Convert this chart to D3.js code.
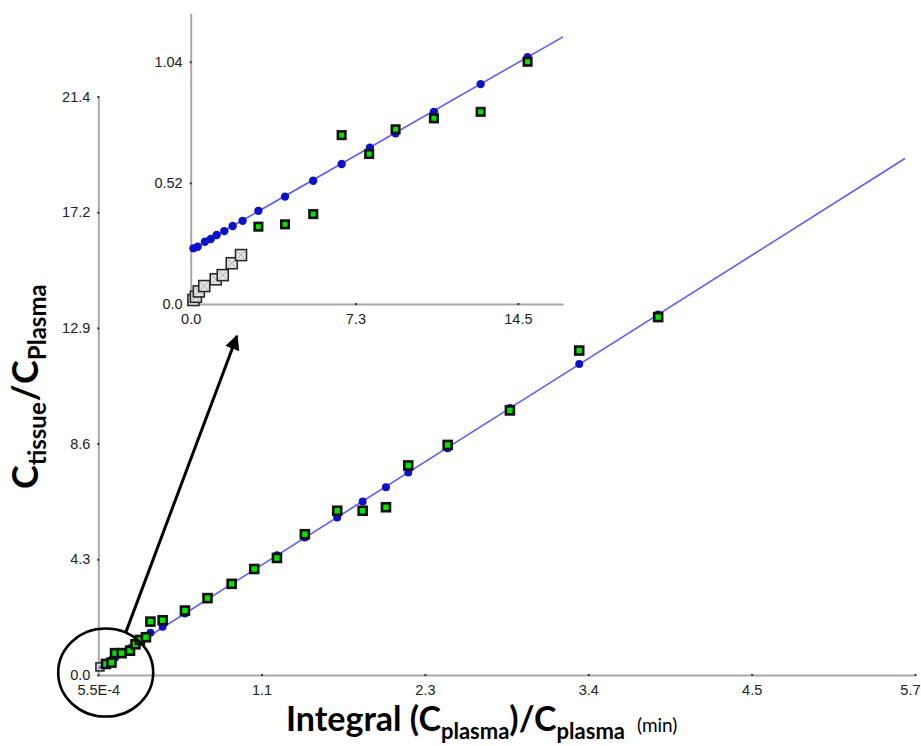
<!DOCTYPE html>
<html>
<head>
<meta charset="utf-8">
<script src="https://cdn.jsdelivr.net/npm/d3@7"></script>
<style>
  body { margin: 0; background: #fff; }
  .axis-title { font-family: Lato, "Open Sans", sans-serif; font-weight: 700; fill: #000; }
</style>
</head>
<body>
<script>
//svg size
var svg_width = 921;
var svg_height = 746;

//main plot data (x = integral/plasma, y = tissue/plasma)
var main_x   = [0.054, 0.092, 0.117, 0.163, 0.221, 0.259, 0.290, 0.332, 0.363, 0.448, 0.603, 0.760,
                0.928, 1.085, 1.243, 1.437, 1.662, 1.839, 2.001, 2.156, 2.430, 2.863, 3.345, 3.894];
var main_sq  = [0.41, 0.46, 0.81, 0.81, 0.90, 1.14, 1.30, 1.40, 1.98, 2.03, 2.39, 2.85,
                3.38, 3.93, 4.34, 5.22, 6.09, 6.09, 6.22, 7.77, 8.53, 9.81, 12.03, 13.27];
var main_fit = [0.43, 0.56, 0.64, 0.80, 0.99, 1.12, 1.23, 1.37, 1.57, 1.79, 2.28, 2.81,
                3.38, 3.91, 4.44, 5.10, 5.84, 6.43, 6.96, 7.51, 8.41, 9.90, 11.53, 13.37];
var main_grey_x = [0.012];
var main_grey_y = [0.30];
var main_line_x = [0.00055, 5.61];
var main_line_y = [0.25, 19.15];

//main ticks
var main_xtick_vals = [0.00055, 1.136, 2.272, 3.408, 4.544, 5.68];
var main_xtick_text = ['5.5E-4', '1.1', '2.3', '3.4', '4.5', '5.7'];
var main_ytick_vals = [0, 4.29, 8.58, 12.87, 17.16, 21.45];
var main_ytick_text = ['0.0', '4.3', '8.6', '12.9', '17.2', '21.4'];

//inset data
var inset_x   = [0.12, 0.31, 0.63, 0.89, 1.15, 1.49, 1.86, 2.30, 3.00, 4.18, 5.43, 6.69, 7.94, 9.08, 10.78, 12.85, 14.93];
var inset_fit = [0.239, 0.246, 0.267, 0.279, 0.296, 0.313, 0.335, 0.357, 0.400, 0.461, 0.529, 0.601, 0.671, 0.733, 0.825, 0.944, 1.059];
var inset_sq_x = [3.00, 4.18, 5.43, 6.69, 7.91, 9.08, 10.78, 12.85, 14.93];
var inset_sq_y = [0.332, 0.342, 0.386, 0.725, 0.644, 0.750, 0.797, 0.825, 1.040];
var inset_grey_x = [0.12, 0.23, 0.36, 0.60, 1.11, 1.42, 1.82, 2.23];
var inset_grey_y = [0.017, 0.031, 0.054, 0.077, 0.106, 0.124, 0.175, 0.210];
var inset_line_x = [0, 16.5];
var inset_line_y = [0.232, 1.147];

//inset ticks
var inset_xtick_vals = [0, 7.3, 14.5];
var inset_xtick_text = ['0.0', '7.3', '14.5'];
var inset_ytick_vals = [0, 0.52, 1.04];
var inset_ytick_text = ['0.0', '0.52', '1.04'];

//colours
var col_line = '#5a5aff';
var col_dot  = '#0c12c8';
var col_sq   = '#00e400';
var col_axis = '#a8a8a8';

var svg = d3.select('body').append('svg')
    .attr('width', svg_width)
    .attr('height', svg_height);

//scales
var sx = d3.scaleLinear().domain([0.00055, 5.68]).range([98.3, 915]);
var sy = d3.scaleLinear().domain([0, 21.45]).range([675, 96.5]);
var ix = d3.scaleLinear().domain([0, 16.5]).range([190.7, 563]);
var iy = d3.scaleLinear().domain([0, 1.248]).range([304, 13.3]);

function zip(a, b) { return a.map(function(v, i) { return [v, b[i]]; }); }

//axis helper: grey domain line, tiny dark tick dots, labels from the text arrays
function drawAxes(g, xs, ys, xv, xt, yv, yt) {
    var ax = d3.axisBottom(xs).tickValues(xv).tickSize(0).tickPadding(10)
        .tickFormat(function(d, i) { return xt[i]; });
    var ay = d3.axisLeft(ys).tickValues(yv).tickSize(0).tickPadding(8)
        .tickFormat(function(d, i) { return yt[i]; });
    var gx = g.append('g').attr('transform', 'translate(0,' + ys.range()[0] + ')').call(ax);
    var gy = g.append('g').attr('transform', 'translate(' + xs.range()[0] + ',0)').call(ay);
    [gx, gy].forEach(function(a) {
        a.attr('font-size', null).attr('font-family', null);
        a.select('.domain').attr('stroke', col_axis).attr('stroke-width', 2);
        a.selectAll('.tick text')
            .style('font-family', '"Liberation Sans", Arial, sans-serif')
            .style('font-size', '14.5px')
            .attr('fill', '#222');
        a.selectAll('.tick').append('rect')
            .attr('x', -1).attr('y', -1).attr('width', 2).attr('height', 2)
            .attr('fill', '#333');
    });
    //last x label sits against the page edge
    gx.selectAll('.tick text').filter(function(d, i) { return i == xv.length - 1 && xs(d) > 900; })
        .attr('text-anchor', 'end').attr('x', 5);
    return [gx, gy];
}

function drawSeries(g, xs, ys, lx, ly, dots, squares, sqsize, dotr) {
    var line = d3.line().x(function(d) { return xs(d[0]); }).y(function(d) { return ys(d[1]); });
    g.append('path').datum(zip(lx, ly))
        .attr('d', line).attr('fill', 'none')
        .attr('stroke', col_line).attr('stroke-width', 1.6);
    g.append('g').selectAll('circle').data(dots).enter().append('circle')
        .attr('cx', function(d) { return xs(d[0]); })
        .attr('cy', function(d) { return ys(d[1]); })
        .attr('r', dotr).attr('fill', col_dot);
    g.append('g').selectAll('rect').data(squares).enter().append('rect')
        .attr('x', function(d) { return xs(d[0]) - sqsize / 2; })
        .attr('y', function(d) { return ys(d[1]) - sqsize / 2; })
        .attr('width', sqsize).attr('height', sqsize)
        .attr('fill', col_sq).attr('stroke', '#111').attr('stroke-width', 2.6);
}

function drawGrey(g, xs, ys, pts, size) {
    var gg = g.append('g').selectAll('g').data(pts).enter().append('g')
        .attr('transform', function(d) { return 'translate(' + xs(d[0]) + ',' + ys(d[1]) + ')'; });
    gg.append('rect')
        .attr('x', -size / 2).attr('y', -size / 2).attr('width', size).attr('height', size)
        .attr('fill', '#e4e4e4').attr('stroke', '#2a2a2a').attr('stroke-width', 1.6);
    gg.append('path')
        .attr('d', 'M' + (-size / 3) + ',' + (-size / 3) + 'L' + (size / 3) + ',' + (size / 3) +
                   'M' + (size / 3) + ',' + (-size / 3) + 'L' + (-size / 3) + ',' + (size / 3))
        .attr('stroke', '#b0b0b0').attr('stroke-width', 1);
}

//main plot
var main = svg.append('g').attr('id', 'main');
drawAxes(main, sx, sy, main_xtick_vals, main_xtick_text, main_ytick_vals, main_ytick_text);
drawGrey(main, sx, sy, zip(main_grey_x, main_grey_y), 8);
drawSeries(main, sx, sy, main_line_x, main_line_y, zip(main_x, main_fit), zip(main_x, main_sq), 8, 4);

//inset plot
var inset = svg.append('g').attr('id', 'inset');
drawAxes(inset, ix, iy, inset_xtick_vals, inset_xtick_text, inset_ytick_vals, inset_ytick_text);
drawSeries(inset, ix, iy, inset_line_x, inset_line_y, zip(inset_x, inset_fit), zip(inset_sq_x, inset_sq_y), 7.5, 4.2);
drawGrey(inset, ix, iy, zip(inset_grey_x, inset_grey_y), 11);

//annotation: ellipse round the origin and arrow up to the inset
svg.append('defs').append('marker')
    .attr('id', 'head').attr('viewBox', '0 0 10 10')
    .attr('refX', 9).attr('refY', 5)
    .attr('markerWidth', 5).attr('markerHeight', 5)
    .attr('orient', 'auto')
    .append('path').attr('d', 'M0,0L10,5L0,10z').attr('fill', '#000');

svg.append('ellipse')
    .attr('cx', sx(0.052)).attr('cy', sy(0.09))
    .attr('rx', 47.5).attr('ry', 44)
    .attr('fill', 'none').attr('stroke', '#000').attr('stroke-width', 2.6);

svg.append('line')
    .attr('x1', sx(0.193)).attr('y1', sy(1.6))
    .attr('x2', ix(2.05)).attr('y2', iy(-0.137))
    .attr('stroke', '#000').attr('stroke-width', 3)
    .attr('marker-end', 'url(#head)');

//axis titles
var xt = svg.append('text').attr('class', 'axis-title')
    .attr('x', 286).attr('y', 731).style('font-size', '34px');
xt.append('tspan').text('Integral (C');
xt.append('tspan').attr('dy', 8).style('font-size', '22px').text('plasma');
xt.append('tspan').attr('dy', -8).text(')/C');
xt.append('tspan').attr('dy', 8).style('font-size', '22px').text('plasma');
xt.append('tspan').attr('dy', -7).attr('dx', 12).style('font-size', '19px').style('font-weight', 400).text('(min)');

var yt = svg.append('text').attr('class', 'axis-title')
    .attr('transform', 'translate(38,489) rotate(-90)').style('font-size', '36px');
yt.append('tspan').text('C');
yt.append('tspan').attr('dy', 8).style('font-size', '24px').text('tissue');
yt.append('tspan').attr('dy', -8).attr('dx', 1).text('/');
yt.append('tspan').attr('dx', 1).text('C');
yt.append('tspan').attr('dy', 8).style('font-size', '24px').text('Plasma');
</script>
</body>
</html>
